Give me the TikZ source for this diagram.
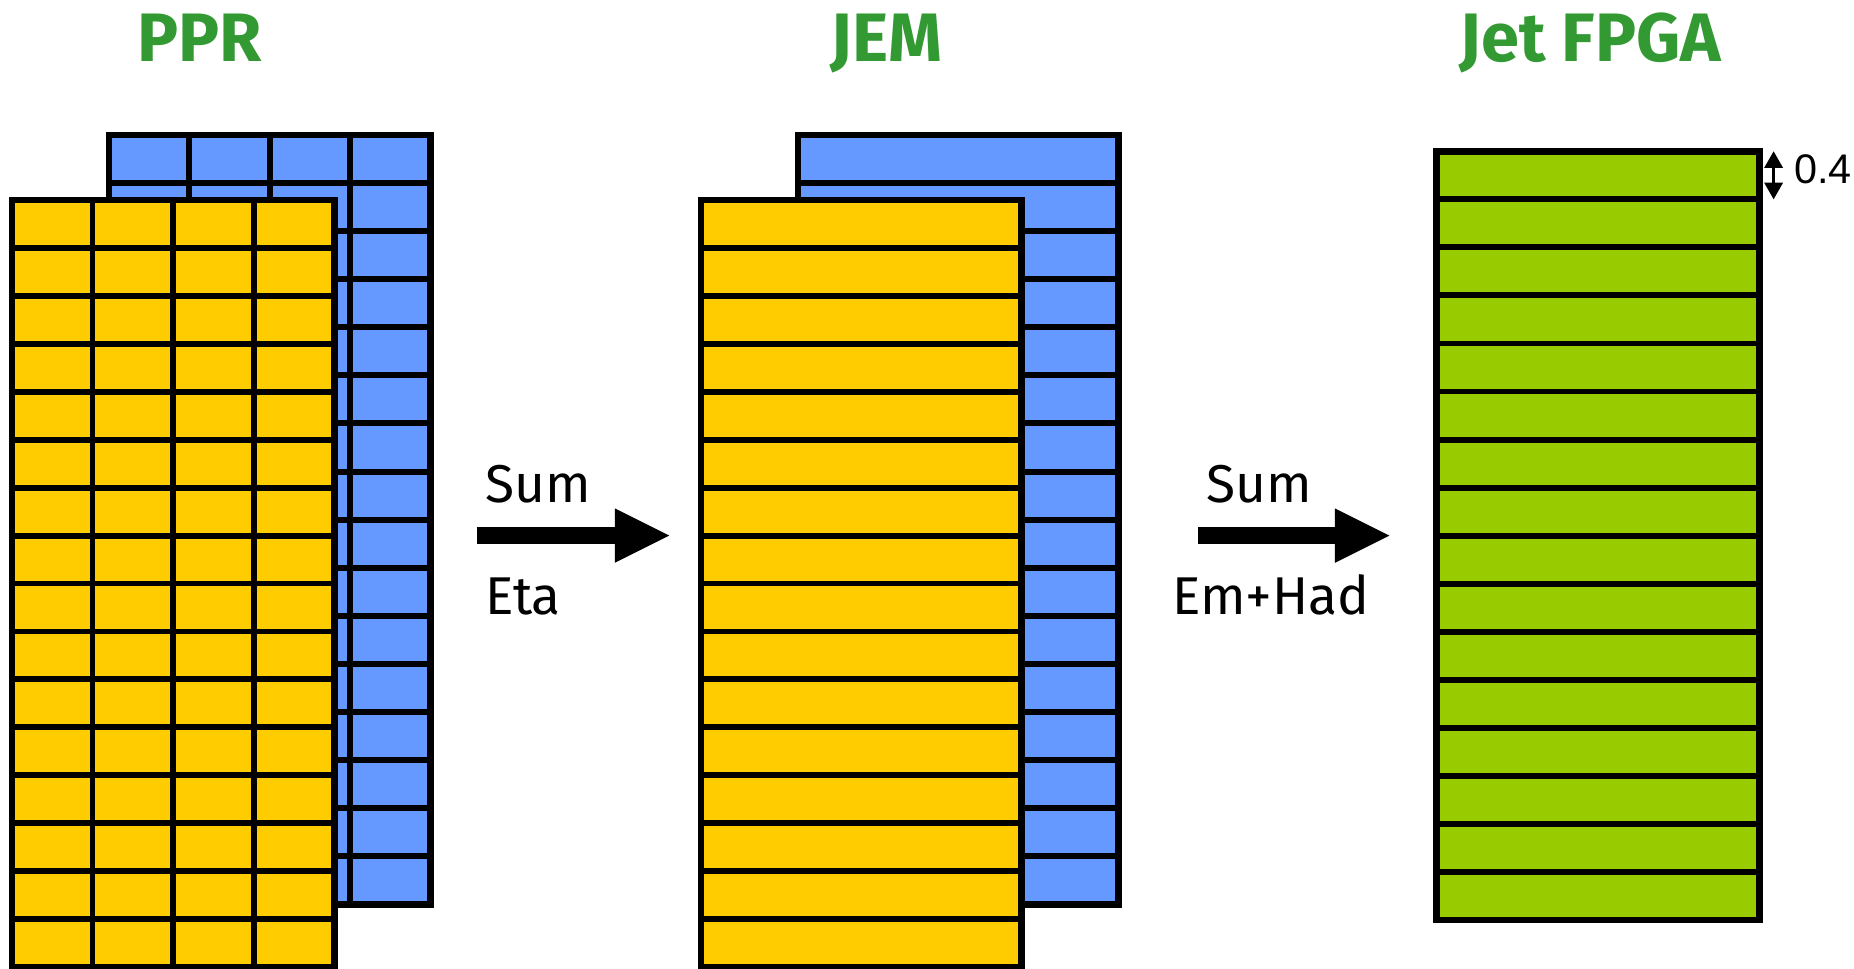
\documentclass[tikz,border=0pt]{standalone}
\usepackage{fontspec}
\setmainfont{Fira Sans}
\newfontfamily\labelfont{Liberation Sans}
\usetikzlibrary{arrows.meta,calc,fit}

\definecolor{cellblue}{HTML}{6699FF}
\definecolor{cellyellow}{HTML}{FFCC00}
\definecolor{cellgreen}{HTML}{99CC00}
\definecolor{titlegreen}{HTML}{339933}

\tikzset{
  gridframe/.style={draw=black, line width=2.7pt, inner sep=0pt, outer sep=0pt},
  gridline/.style={draw=black, line width=2.5pt},
  title/.style={font=\fontsize{29}{34}\selectfont\bfseries, text=titlegreen,
                anchor=base, inner sep=0pt},
  oplabel/.style={font=\fontsize{22.5}{27}\selectfont, anchor=base west, inner sep=0pt},
  bigarrow/.style={line width=7pt,
                   -{Triangle[length=23pt,width=23pt,line width=0pt]}},
  sizearrow/.style={line width=1.4pt,
                    {Triangle[length=7pt,width=8pt,line width=0pt]}-{Triangle[length=7pt,width=8pt,line width=0pt]}},
  sizelabel/.style={font=\labelfont\fontsize{17.5}{20}\selectfont,
                    anchor=base west, inner sep=0pt},
}

% \cellgrid{name}{fill}{x0}{y0}{x1}{y1}{columns}{rows}
\newcommand\cellgrid[8]{%
  \node[gridframe, fill=#2, fit={(#3,#4) (#5,#6)}] (#1) {};
  \ifnum#7>1
    \foreach \k in {2,...,#7}
      \draw[gridline] ($(#1.south west)!{(\k-1)/#7}!(#1.south east)$)
                   -- ($(#1.north west)!{(\k-1)/#7}!(#1.north east)$);
  \fi
  \foreach \k in {2,...,#8}
    \draw[gridline] ($(#1.south west)!{(\k-1)/#8}!(#1.north west)$)
                 -- ($(#1.south east)!{(\k-1)/#8}!(#1.north east)$);
}

\begin{document}
\begin{tikzpicture}[x=0.5pt, y=0.5pt]
  \useasboundingbox (0,0) rectangle (1568,819);

  % titles
  \node[title] (tppr) at (169,767) {PPR};
  \node[title] (tjem) at (750,767) {JEM};
  \node[title] (tjet) at (1345,767) {Jet FPGA};

  % PPR: hadronic layer behind, electromagnetic layer in front
  \cellgrid{pprhad}{cellblue}{92}{54}{364}{705}{4}{16}
  \cellgrid{pprem}{cellyellow}{10}{1}{283}{650}{4}{16}

  % JEM: eta-summed strips
  \cellgrid{jemhad}{cellblue}{675}{54}{946}{705}{1}{16}
  \cellgrid{jemem}{cellyellow}{593}{1}{864}{650}{1}{16}

  % Jet FPGA: em+had summed strips
  \cellgrid{jetfpga}{cellgreen}{1215}{41}{1488}{691}{1}{16}

  % summing steps
  \coordinate (a1s) at (403,366);
  \coordinate (a1e) at (566,366);
  \draw[bigarrow] (a1s) -- (a1e);
  \node[oplabel] (sum1) at (410,394) {Sum};
  \node[oplabel] (eta) at (410,299) {Eta};

  \coordinate (a2s) at (1013,366);
  \coordinate (a2e) at (1175,366);
  \draw[bigarrow] (a2s) -- (a2e);
  \node[oplabel] (sum2) at (1020,394) {Sum};
  \node[oplabel] (emhad) at (991,299) {Em+Had};

  % strip height
  \coordinate (h1) at (1500,691);
  \coordinate (h2) at (1500,650.5);
  \draw[sizearrow] (h1) -- (h2);
  \node[sizelabel] (hval) at (1517,664) {0.4};
\end{tikzpicture}
\end{document}
